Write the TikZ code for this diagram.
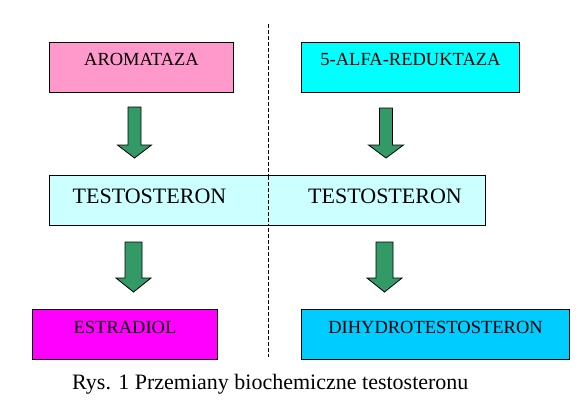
\documentclass[tikz,border=0pt]{standalone}
\usepackage{fontspec}
\setmainfont{Liberation Serif}
\definecolor{pinkbox}{HTML}{FF99CC}
\definecolor{cyanbox}{HTML}{00FFFF}
\definecolor{lightbox}{HTML}{CCFFFF}
\definecolor{magbox}{HTML}{FF00FF}
\definecolor{bluebox}{HTML}{00CCFF}
\definecolor{arrowgreen}{HTML}{339966}
\newcommand{\blockarr}[6]{% center x, top, head y, tip, shaft half, head half
  \filldraw[arrowfill] (#1-#5,#2) -- (#1+#5,#2) -- (#1+#5,#3) -- (#1+#6,#3) -- (#1,#4) -- (#1-#6,#3) -- (#1-#5,#3) -- cycle;}
\begin{document}
\begin{tikzpicture}[x=1pt,y=-1pt,
  box/.style={draw=black, line width=1pt, inner sep=0pt, text height=23pt, text depth=27pt, font=\fontsize{18.5}{20}\selectfont},
  bigtxt/.style={inner sep=0pt, anchor=base, font=\fontsize{22}{24}\selectfont},
  arrowfill/.style={fill=arrowgreen, draw=black, line width=0.8pt},
  divider/.style={draw=black, line width=1pt, dash pattern=on 4pt off 2pt}]
\useasboundingbox (0,0) rectangle (585,407);
\fill[white] (0,0) rectangle (585,407);
% divider
\coordinate (dtop) at (268,24);
\coordinate (dbot) at (268,357);
\draw[divider] (dtop) -- (dbot);
% top boxes
\node[box, fill=pinkbox, minimum width=184pt, anchor=north west] (aro) at (49,42) {AROMATAZA};
\node[box, fill=cyanbox, minimum width=218pt, anchor=north west] (red) at (301,42) {5-ALFA-REDUKTAZA};
% middle box
\node[draw=black, line width=1pt, fill=lightbox, minimum width=436pt, minimum height=50pt, inner sep=0pt, anchor=north west] (tes) at (49,175) {};
\node[bigtxt] (tes1) at (149.5,203) {TESTOSTERON};
\node[bigtxt] (tes2) at (385,203) {TESTOSTERON};
% redraw divider over the box
\draw[divider] (268,175.5) -- (268,224.5);
% bottom boxes
\node[box, fill=magbox, minimum width=185pt, anchor=north west, text height=24pt, text depth=26pt] (est) at (32,309) {ESTRADIOL};
\node[box, fill=bluebox, minimum width=268pt, anchor=north west, text height=24pt, text depth=26pt] (dht) at (301,309) {DIHYDROTESTOSTERON};
% arrows
\blockarr{134.5}{107}{145}{158}{6.5}{17}
\blockarr{386}{108}{145}{158}{6.5}{17.5}
\blockarr{133.5}{242}{278}{292}{8.5}{17.5}
\blockarr{384.5}{242}{278}{292}{8.5}{17.5}
% caption
\node[bigtxt, anchor=base west] (cap) at (72,389) {Rys. 1 Przemiany biochemiczne testosteronu};
\end{tikzpicture}
\end{document}
